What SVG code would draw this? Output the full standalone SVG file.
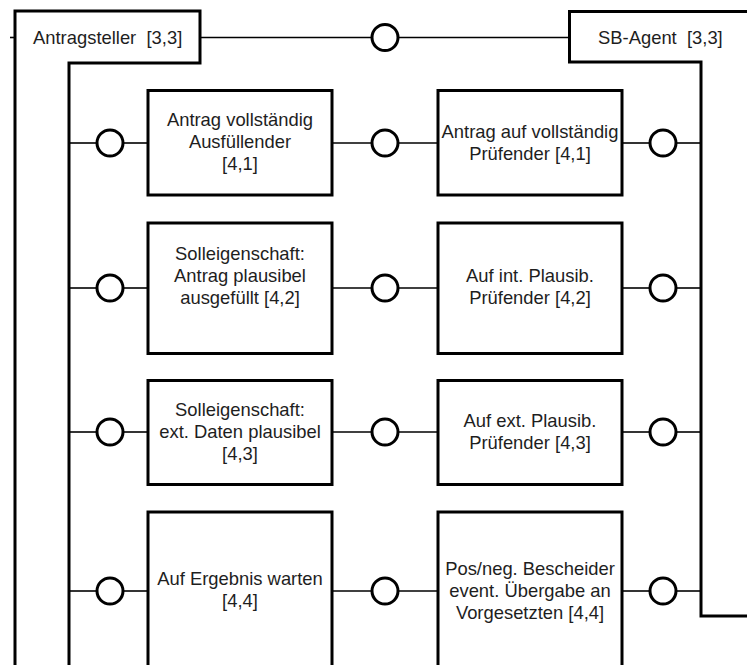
<svg xmlns="http://www.w3.org/2000/svg" width="747" height="665" viewBox="0 0 747 665">
  <style>
    .frame { fill: none; stroke: #000; stroke-width: 3; stroke-linejoin: miter; }
    .box { fill: #fff; stroke: #000; stroke-width: 3; }
    .port { fill: #fff; stroke: #000; stroke-width: 3; }
    .wire { fill: none; stroke: #000; stroke-width: 1.6; }
    text { font-family: "Liberation Sans", Arial, sans-serif; font-size: 18.4px; fill: #1e1e1e; }
    .c { text-anchor: middle; }
  </style>
  <rect width="747" height="665" fill="#fff"/>

  <!-- connectors -->
  <g id="connectors">
    <line class="wire" x1="10" y1="37.5" x2="15" y2="37.5"/>
    <line class="wire" x1="200" y1="37.5" x2="372" y2="37.5"/>
    <line class="wire" x1="398" y1="37.5" x2="569.5" y2="37.5"/>

    <line class="wire" x1="69" y1="143" x2="97" y2="143"/>
    <line class="wire" x1="123" y1="143" x2="148" y2="143"/>
    <line class="wire" x1="332" y1="143" x2="372" y2="143"/>
    <line class="wire" x1="398" y1="143" x2="438" y2="143"/>
    <line class="wire" x1="622" y1="143" x2="650" y2="143"/>
    <line class="wire" x1="676" y1="143" x2="701" y2="143"/>

    <line class="wire" x1="69" y1="288" x2="97" y2="288"/>
    <line class="wire" x1="123" y1="288" x2="148" y2="288"/>
    <line class="wire" x1="332" y1="288" x2="372" y2="288"/>
    <line class="wire" x1="398" y1="288" x2="438" y2="288"/>
    <line class="wire" x1="622" y1="288" x2="650" y2="288"/>
    <line class="wire" x1="676" y1="288" x2="701" y2="288"/>

    <line class="wire" x1="69" y1="432" x2="97" y2="432"/>
    <line class="wire" x1="123" y1="432" x2="148" y2="432"/>
    <line class="wire" x1="332" y1="432" x2="372" y2="432"/>
    <line class="wire" x1="398" y1="432" x2="438" y2="432"/>
    <line class="wire" x1="622" y1="432" x2="650" y2="432"/>
    <line class="wire" x1="676" y1="432" x2="701" y2="432"/>

    <line class="wire" x1="69" y1="591" x2="97" y2="591"/>
    <line class="wire" x1="123" y1="591" x2="148" y2="591"/>
    <line class="wire" x1="332" y1="591" x2="372" y2="591"/>
    <line class="wire" x1="398" y1="591" x2="438" y2="591"/>
    <line class="wire" x1="622" y1="591" x2="650" y2="591"/>
    <line class="wire" x1="676" y1="591" x2="701" y2="591"/>
  </g>

  <!-- interface circles -->
  <g id="ports">
    <circle class="port" cx="385" cy="37.5" r="13"/>
    <circle class="port" cx="110" cy="143" r="13"/>
    <circle class="port" cx="385" cy="143" r="13"/>
    <circle class="port" cx="663" cy="143" r="13"/>
    <circle class="port" cx="110" cy="288" r="13"/>
    <circle class="port" cx="385" cy="288" r="13"/>
    <circle class="port" cx="663" cy="288" r="13"/>
    <circle class="port" cx="110" cy="432" r="13"/>
    <circle class="port" cx="385" cy="432" r="13"/>
    <circle class="port" cx="663" cy="432" r="13"/>
    <circle class="port" cx="110" cy="591" r="13"/>
    <circle class="port" cx="385" cy="591" r="13"/>
    <circle class="port" cx="663" cy="591" r="13"/>
  </g>

  <!-- outer components -->
  <g id="antragsteller">
    <path class="frame" d="M15,668 V11 H200 V63 H69 V668"/>
    <text x="33" y="43.5" xml:space="preserve">Antragsteller  [3,3]</text>
  </g>
  <g id="sb-agent">
    <path class="frame" d="M750,11.5 H569.5 V62 H701 V616 H750"/>
    <text x="598" y="43.5" xml:space="preserve">SB-Agent  [3,3]</text>
  </g>

  <!-- row 1 -->
  <g id="ausfuellender-4-1">
    <rect class="box" x="148" y="90.5" width="184" height="104.5"/>
    <text class="c" x="240" y="126">Antrag vollständig</text>
    <text class="c" x="240" y="148">Ausfüllender</text>
    <text class="c" x="240" y="170">[4,1]</text>
  </g>
  <g id="pruefender-4-1">
    <rect class="box" x="438" y="90.5" width="184" height="104.5"/>
    <text class="c" x="530" y="138">Antrag auf vollständig</text>
    <text class="c" x="530" y="159.5">Prüfender [4,1]</text>
  </g>

  <!-- row 2 -->
  <g id="soll-plausibel-4-2">
    <rect class="box" x="148" y="223" width="184" height="130.5"/>
    <text class="c" x="240" y="260">Solleigenschaft:</text>
    <text class="c" x="240" y="282">Antrag plausibel</text>
    <text class="c" x="240" y="304">ausgefüllt [4,2]</text>
  </g>
  <g id="int-pruefender-4-2">
    <rect class="box" x="438" y="223" width="184" height="130.5"/>
    <text class="c" x="530" y="282">Auf int. Plausib.</text>
    <text class="c" x="530" y="304">Prüfender [4,2]</text>
  </g>

  <!-- row 3 -->
  <g id="soll-ext-daten-4-3">
    <rect class="box" x="148" y="380.5" width="184" height="104"/>
    <text class="c" x="240" y="416">Solleigenschaft:</text>
    <text class="c" x="240" y="438">ext. Daten plausibel</text>
    <text class="c" x="240" y="460">[4,3]</text>
  </g>
  <g id="ext-pruefender-4-3">
    <rect class="box" x="438" y="380.5" width="184" height="104"/>
    <text class="c" x="530" y="427">Auf ext. Plausib.</text>
    <text class="c" x="530" y="449">Prüfender [4,3]</text>
  </g>

  <!-- row 4 -->
  <g id="warten-4-4">
    <rect class="box" x="148" y="512" width="184" height="170"/>
    <text class="c" x="240" y="585">Auf Ergebnis warten</text>
    <text class="c" x="240" y="607">[4,4]</text>
  </g>
  <g id="bescheider-4-4">
    <rect class="box" x="438" y="512" width="184" height="170"/>
    <text class="c" x="530" y="574.5">Pos/neg. Bescheider</text>
    <text class="c" x="530" y="596.5">event. Übergabe an</text>
    <text class="c" x="530" y="618.5">Vorgesetzten [4,4]</text>
  </g>
</svg>
